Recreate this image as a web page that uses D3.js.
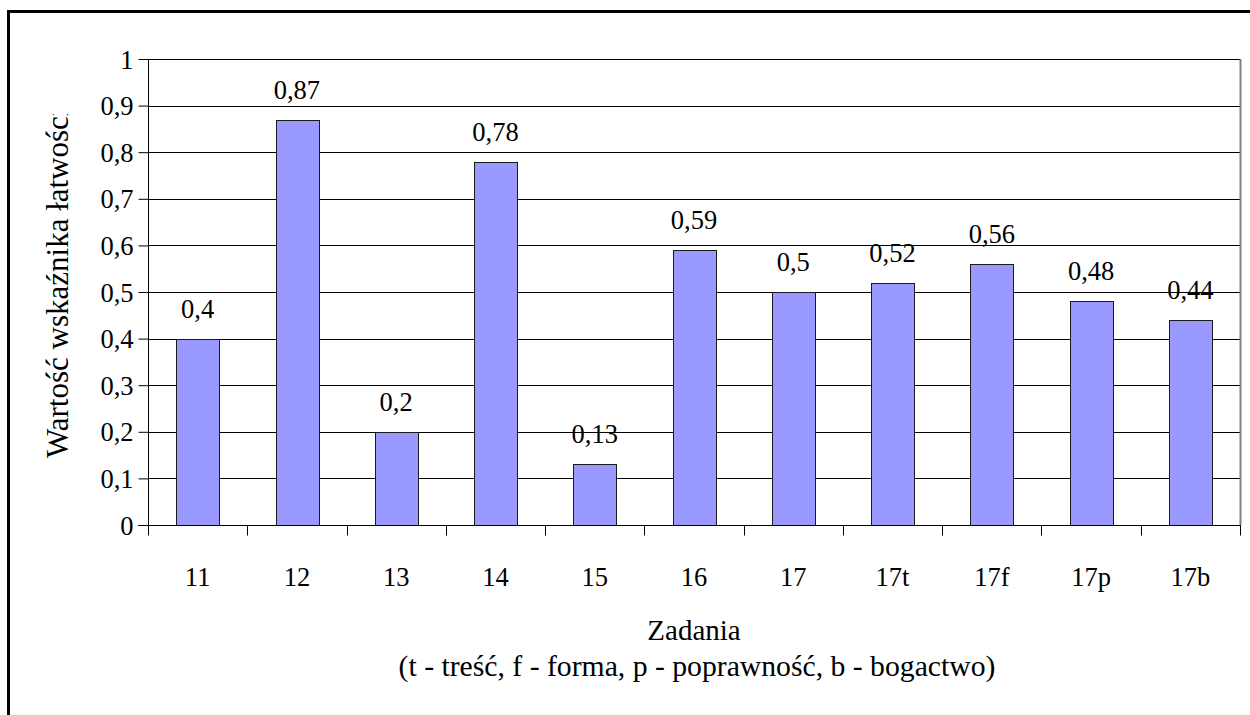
<!DOCTYPE html>
<html>
<head>
<meta charset="utf-8">
<script src="https://cdn.jsdelivr.net/npm/d3@7"></script>
<style>
  html, body { margin: 0; padding: 0; background: #fff; }
  svg { display: block; }
  svg text { font-family: "Liberation Serif", "Times New Roman", Times, serif !important; fill: #000; }
</style>
</head>
<body>
<svg id="chart" width="1250" height="715"></svg>
<script>
const categories = ["11", "12", "13", "14", "15", "16", "17", "17t", "17f", "17p", "17b"];
const values = [0.4, 0.87, 0.2, 0.78, 0.13, 0.59, 0.5, 0.52, 0.56, 0.48, 0.44];
const valueLabels = ["0,4", "0,87", "0,2", "0,78", "0,13", "0,59", "0,5", "0,52", "0,56", "0,48", "0,44"];
const yTicks = [0, 0.1, 0.2, 0.3, 0.4, 0.5, 0.6, 0.7, 0.8, 0.9, 1];
const yTickLabels = ["0", "0,1", "0,2", "0,3", "0,4", "0,5", "0,6", "0,7", "0,8", "0,9", "1"];
const yTitle = "Wartość wskaźnika łatwości";
const xTitle = "Zadania";
const xSubtitle = "(t - treść, f - forma, p - poprawność, b - bogactwo)";

const FONT = '"Liberation Serif", "Times New Roman", Times, serif';
const svg = d3.select("#chart");
const plot = { left: 148, right: 1240, top: 59, bottom: 525 };

// outer frame (right/bottom edges lie outside the picture)
svg.append("rect")
  .attr("x", 8.5).attr("y", 11.5)
  .attr("width", 1300).attr("height", 800)
  .attr("fill", "none").attr("stroke", "#000").attr("stroke-width", 3);

const x = d3.scaleBand().domain(categories).range([plot.left, plot.right]).paddingInner(0.57).paddingOuter(0.285);
const xb = d3.scaleBand().domain(categories).range([plot.left, plot.right]);
const y = d3.scaleLinear().domain([0, 1]).range([plot.bottom, plot.top]);

// gridlines
svg.append("g").selectAll("line").data(yTicks.filter(d => d > 0)).join("line")
  .attr("x1", plot.left).attr("x2", plot.right)
  .attr("y1", d => Math.round(y(d)) + 0.5).attr("y2", d => Math.round(y(d)) + 0.5)
  .attr("stroke", "#000").attr("stroke-width", 1);

// right plot border
svg.append("line")
  .attr("x1", plot.right + 0.5).attr("x2", plot.right + 0.5)
  .attr("y1", plot.top).attr("y2", plot.bottom)
  .attr("stroke", "#808080").attr("stroke-width", 2);

// bars
svg.append("g").selectAll("rect").data(values).join("rect")
  .attr("x", (d, i) => Math.round(x(categories[i])) + 0.5)
  .attr("y", d => Math.round(y(d)) + 0.5)
  .attr("width", Math.round(x.bandwidth()))
  .attr("height", d => Math.round(y(0)) - Math.round(y(d)))
  .attr("fill", "#9999FF")
  .attr("stroke", "#1a1a1a").attr("stroke-width", 1);

// value labels
svg.append("g").selectAll("text").data(values).join("text")
  .attr("x", (d, i) => x(categories[i]) + x.bandwidth() / 2)
  .attr("y", d => y(d) - 21)
  .attr("text-anchor", "middle")
  .attr("font-family", FONT)
  .attr("font-size", 26.5)
  .text((d, i) => valueLabels[i]);

// y axis
const yAxis = d3.axisLeft(y).tickValues(yTicks).tickSize(10).tickFormat((d, i) => yTickLabels[i]);
const gy = svg.append("g").attr("transform", `translate(${plot.left + 0.5},0)`).call(yAxis);
gy.attr("font-family", FONT);
gy.select(".domain").attr("stroke", "#000").attr("d", `M0,${plot.top}V${plot.bottom}`);
gy.selectAll(".tick line").attr("stroke", "#000");
gy.selectAll(".tick text").attr("font-size", 26.5).attr("x", -15).attr("dy", "0.34em");

// x axis (ticks at band boundaries)
const gx = svg.append("g").attr("transform", `translate(0,${Math.round(y(0)) + 0.5})`).attr("font-family", FONT);
gx.append("line").attr("x1", plot.left - 10).attr("x2", plot.right + 1).attr("stroke", "#000");
const bounds = categories.map(c => xb(c)).concat([plot.right]);
gx.selectAll("line.tk").data(bounds).join("line").attr("class", "tk")
  .attr("x1", d => Math.round(d) + 0.5).attr("x2", d => Math.round(d) + 0.5)
  .attr("y1", 0).attr("y2", 10).attr("stroke", "#000");
gx.selectAll("text").data(categories).join("text")
  .attr("x", d => xb(d) + xb.bandwidth() / 2)
  .attr("y", 60)
  .attr("text-anchor", "middle")
  .attr("font-size", 26.5)
  .text(d => d);

// x titles
svg.append("text").attr("x", 694).attr("y", 640).attr("text-anchor", "middle").attr("font-family", FONT).attr("font-size", 29).text(xTitle);
svg.append("text").attr("x", 697).attr("y", 676).attr("text-anchor", "middle").attr("font-family", FONT).attr("font-size", 29.7).text(xSubtitle);

// y title (clipped at top as in the original)
svg.append("defs").append("clipPath").attr("id", "yclip")
  .append("rect").attr("x", 0).attr("y", 114).attr("width", 120).attr("height", 500);
svg.append("g").attr("clip-path", "url(#yclip)")
  .append("text")
  .attr("transform", "translate(68,458) rotate(-90)")
  .attr("text-anchor", "start")
  .attr("font-family", FONT)
  .attr("font-size", 31)
  .text(yTitle);
</script>
</body>
</html>
